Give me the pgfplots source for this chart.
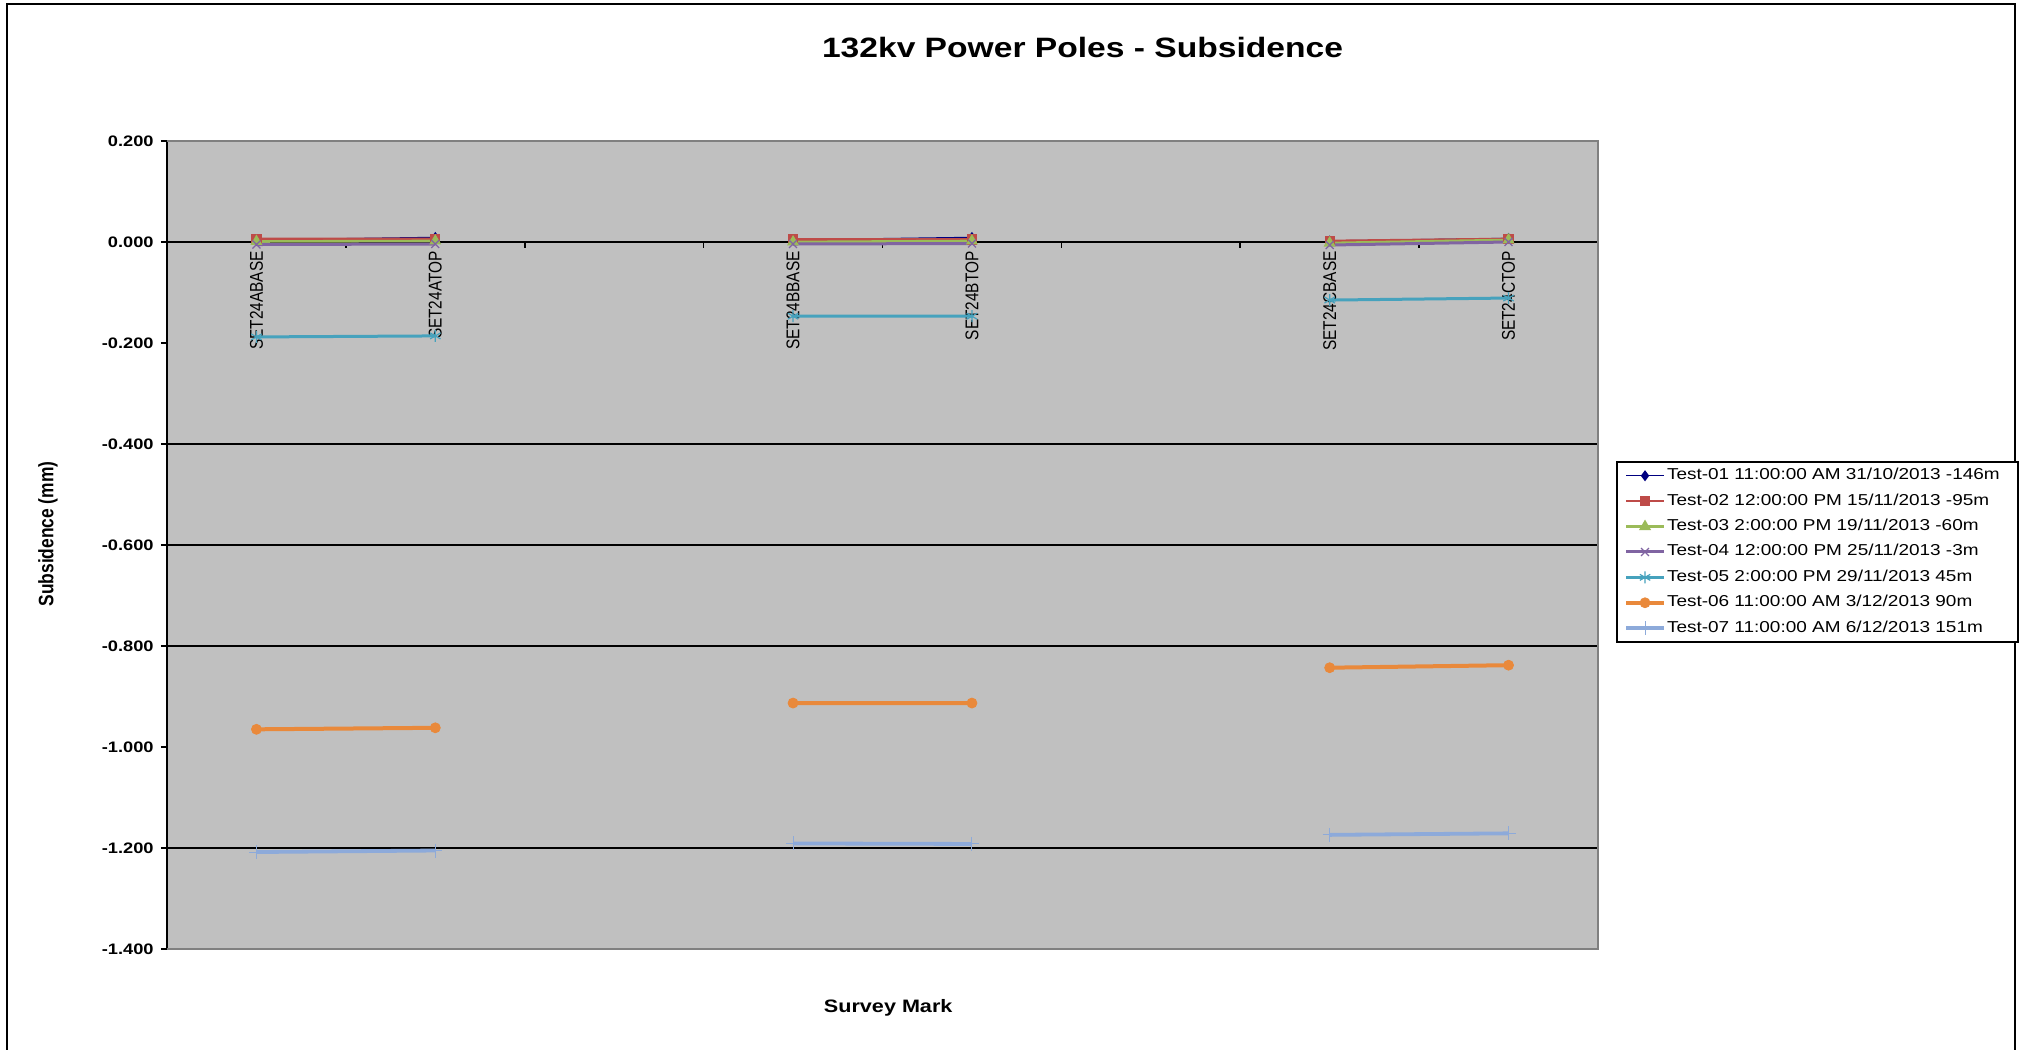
\documentclass[border=0pt]{standalone}
\usepackage{pgfplots}
\usepackage{pgfplotstable}
\pgfplotsset{compat=1.18}
\usepackage{fontspec}
\setmainfont{Liberation Sans}

\definecolor{plotbg}{HTML}{C0C0C0}
\definecolor{frameg}{HTML}{808080}
\definecolor{sOne}{HTML}{000080}
\definecolor{sTwo}{HTML}{BE4B48}
\definecolor{sThree}{HTML}{9BBB59}
\definecolor{sFour}{HTML}{8064A2}
\definecolor{sFive}{HTML}{46A2BD}
\definecolor{sSix}{HTML}{E9893B}
\definecolor{sSeven}{HTML}{8DAADA}

% text is set slightly wide, as in the original sheet
\newcommand{\hx}[1]{\scalebox{1.2}[1]{#1}}
\newcommand{\vx}[1]{\scalebox{1}[1.2]{#1}}

% survey marks at positions 0..7; 2 and 5 are empty slots between poles
\pgfplotstableread{
x  t1     t2     t3     t4     t5     t6     t7
0  0.004  0.006  0.001  -0.005 -0.188 -0.965 -1.208
1  0.009  0.006  0.002  -0.004 -0.186 -0.962 -1.205
2  nan    nan    nan    nan    nan    nan    nan
3  0.004  0.005  0.000  -0.004 -0.147 -0.913 -1.191
4  0.009  0.005  0.002  -0.003 -0.147 -0.913 -1.192
5  nan    nan    nan    nan    nan    nan    nan
6  0.002  0.002  -0.002 -0.006 -0.115 -0.843 -1.174
7  0.007  0.006  0.004  0.000  -0.111 -0.838 -1.171
}\subsidence

\begin{document}
\begin{tikzpicture}
\useasboundingbox (0,0) rectangle (1010pt,525pt);
% chart frame
\draw[black, line width=1pt] (3.5pt,0pt) -- (3.5pt,522.75pt) -- (1007.5pt,522.75pt) -- (1007.5pt,0pt);
\begin{axis}[
  at={(83.5pt,50.5pt)}, anchor=south west,
  scale only axis, width=715.5pt, height=404pt,
  clip=false,
  xmin=-0.5, xmax=7.5, ymin=-1.4, ymax=0.2,
  axis background/.style={fill=plotbg},
  axis x line*=middle, axis y line*=left,
  x axis line style={black, line width=0.6pt},
  y axis line style={black, line width=1pt},
  hide obscured x ticks=false, hide obscured y ticks=false,
  tick align=outside, xtick align=outside, ytick align=outside,
  major tick length=3pt,
  tick style={black, line width=0.8pt},
  xtick={0.5,1.5,2.5,3.5,4.5,5.5,6.5},
  xticklabels={},
  extra x ticks={0,1,3,4,6,7},
  extra x tick labels={\vx{SET24ABASE},\vx{SET24ATOP},\vx{SET24BBASE},\vx{SET24BTOP},\vx{SET24CBASE},\vx{SET24CTOP}},
  extra x tick style={major tick length=0pt,
    xticklabel style={rotate=90, anchor=east, inner sep=0pt, xshift=-4.5pt, font=\fontsize{7.7}{9}\selectfont}},
  ytick={-1.4,-1.2,-1,-0.8,-0.6,-0.4,-0.2,0,0.2},
  yticklabels={\hx{-1.400},\hx{-1.200},\hx{-1.000},\hx{-0.800},\hx{-0.600},\hx{-0.400},\hx{-0.200},\hx{0.000},\hx{0.200}},
  yticklabel style={font=\bfseries\fontsize{7.6}{8}\selectfont, inner sep=0pt, xshift=-3.5pt},
  extra y ticks={-1.2,-0.8,-0.6,-0.4},
  extra y tick labels={},
  extra y tick style={major tick length=0pt, grid=major, major grid style={black, line width=0.55pt}},
  title={\hx{132kv Power Poles - Subsidence}},
  title style={at={(axis description cs:0.6398,1.089)}, anchor=base, font=\bfseries\fontsize{14}{16}\selectfont},
  xlabel={\hx{Survey Mark}},
  xlabel style={at={(axis description cs:0.504,-0.078)}, anchor=base, font=\bfseries\fontsize{9}{11}\selectfont},
  ylabel={\vx{Subsidence (mm)}},
  ylabel style={at={(axis description cs:-0.0832,0.5136)}, anchor=center, font=\bfseries\fontsize{8.7}{10}\selectfont},
  unbounded coords=jump,
  legend cell align=left,
  legend image code/.code={\draw[mark repeat=2,mark phase=2,#1] plot coordinates {(0pt,0pt) (9.5pt,0pt) (19pt,0pt)};},
  legend style={at={(axis description cs:1.0126,0.604)}, anchor=north west,
    draw=black, line width=1pt, fill=white,
    inner xsep=3.5pt, inner ysep=2.3pt, row sep=3.5pt,
    nodes={inner xsep=0.5pt, inner ysep=1pt, text height=5.6pt, text depth=1.6pt},
    font=\fontsize{7.9}{9}\selectfont},
]
\addplot[color=sOne, line width=0.7pt, mark=diamond*, mark size=2.2pt, mark options={solid}] table[x=x, y=t1] {\subsidence};
\addlegendentry{\hx{Test-01 11:00:00 AM 31/10/2013 -146m}\rule{5pt}{0pt}}
\addplot[color=sTwo, line width=1.3pt, mark=square*, mark size=1.9pt, mark options={solid}] table[x=x, y=t2] {\subsidence};
\addlegendentry{\hx{Test-02 12:00:00 PM 15/11/2013 -95m}}
\addplot[color=sThree, line width=1.3pt, mark=triangle*, mark size=2.2pt, mark options={solid}] table[x=x, y=t3] {\subsidence};
\addlegendentry{\hx{Test-03 2:00:00 PM 19/11/2013 -60m}}
\addplot[color=sFour, line width=1.5pt, mark=x, mark size=2.8pt, mark options={solid, line width=0.6pt}] table[x=x, y=t4] {\subsidence};
\addlegendentry{\hx{Test-04 12:00:00 PM 25/11/2013 -3m}}
\addplot[color=sFive, line width=1.5pt, mark=asterisk, mark size=3pt, mark options={solid, line width=0.6pt}] table[x=x, y=t5] {\subsidence};
\addlegendentry{\hx{Test-05 2:00:00 PM 29/11/2013 45m}}
\addplot[color=sSix, line width=2pt, mark=*, mark size=2.5pt, mark options={solid, line width=0.4pt}] table[x=x, y=t6] {\subsidence};
\addlegendentry{\hx{Test-06 11:00:00 AM 3/12/2013 90m}}
\addplot[color=sSeven, line width=1.9pt, mark=+, mark size=3.5pt, mark options={solid, line width=0.5pt}] table[x=x, y=t7] {\subsidence};
\addlegendentry{\hx{Test-07 11:00:00 AM 6/12/2013 151m}}
% plot-area border on the three sides not covered by the value axis
\draw[frameg, line width=1pt] (rel axis cs:0,1) -- (rel axis cs:1,1) -- (rel axis cs:1,0) -- (rel axis cs:0,0);
\end{axis}
\end{tikzpicture}
\end{document}
